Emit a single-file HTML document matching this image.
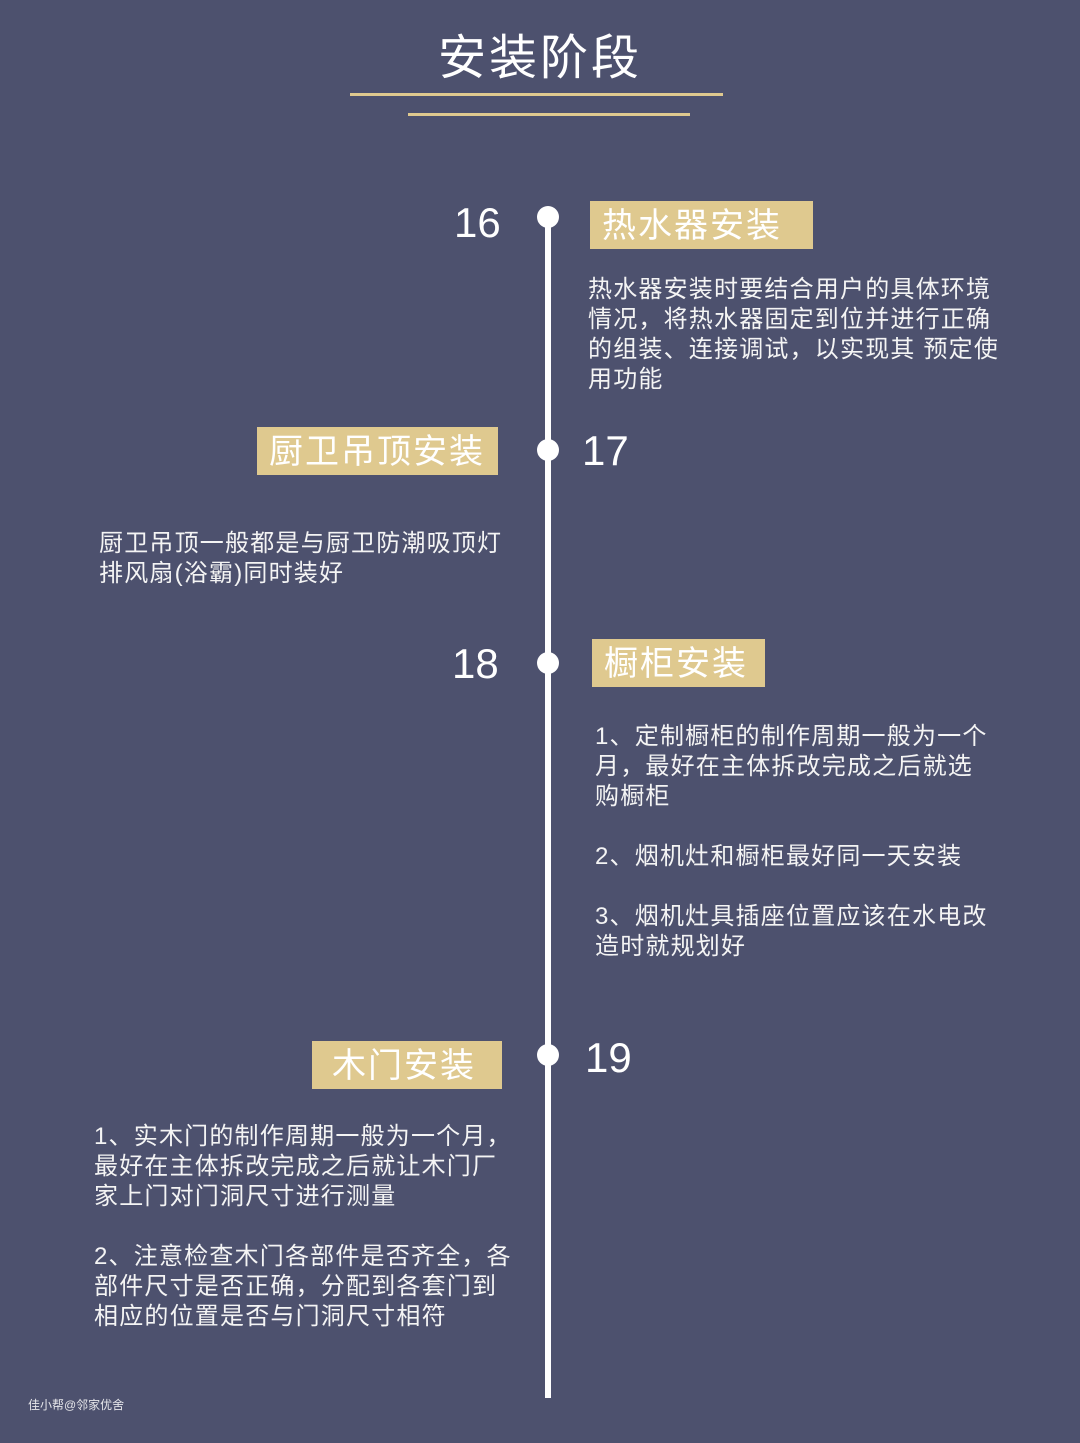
<!DOCTYPE html>
<html><head><meta charset="utf-8"><style>
body{margin:0;width:1080px;height:1443px;background:#4d516e;position:relative;overflow:hidden;font-family:"Liberation Sans","Noto Sans CJK SC",sans-serif;color:#fff}
.a{position:absolute}
.t{font-size:24px;letter-spacing:1.2px;line-height:30px;white-space:pre;color:#f4f4f4}
.box{position:absolute;background:#dfc98f;color:#fff;font-size:34px;line-height:50px;height:48px;padding-left:12px;box-sizing:border-box;letter-spacing:2px}
.num{position:absolute;font-size:42px;line-height:44px;font-family:"Liberation Sans","DejaVu Sans",sans-serif}
.dot{position:absolute;left:537px;width:22px;height:22px;border-radius:50%;background:#fff}
</style></head><body>
<div class="a" style="left:0;width:1080px;top:29px;text-align:center;font-size:48px;line-height:60px;letter-spacing:3px">安装阶段</div>
<div class="a" style="left:350px;top:93px;width:373px;height:3px;background:#dfc98f"></div>
<div class="a" style="left:408px;top:113px;width:282px;height:3px;background:#dfc98f"></div>
<div class="a" style="left:545px;top:215px;width:6px;height:1183px;background:#fff"></div>
<div class="dot" style="top:206px"></div>
<div class="dot" style="top:439px"></div>
<div class="dot" style="top:652px"></div>
<div class="dot" style="top:1044px"></div>
<div class="num" style="left:454px;top:201px">16</div>
<div class="num" style="left:582px;top:429px">17</div>
<div class="num" style="left:452px;top:642px">18</div>
<div class="num" style="left:585px;top:1036px">19</div>
<div class="box" style="left:590px;top:201px;width:223px">热水器安装</div>
<div class="box" style="left:257px;top:427px;width:241px">厨卫吊顶安装</div>
<div class="box" style="left:592px;top:639px;width:173px">橱柜安装</div>
<div class="box" style="left:312px;top:1041px;width:190px;padding-left:20px">木门安装</div>
<div class="a t" style="left:588px;top:275px">热水器安装时要结合用户的具体环境
情况，将热水器固定到位并进行正确
的组装、连接调试，以实现其 预定使
用功能</div>
<div class="a t" style="left:99px;top:529px">厨卫吊顶一般都是与厨卫防潮吸顶灯
排风扇(浴霸)同时装好</div>
<div class="a t" style="left:595px;top:722px">1、定制橱柜的制作周期一般为一个
月，最好在主体拆改完成之后就选
购橱柜

2、烟机灶和橱柜最好同一天安装

3、烟机灶具插座位置应该在水电改
造时就规划好</div>
<div class="a t" style="left:94px;top:1122px">1、实木门的制作周期一般为一个月，
最好在主体拆改完成之后就让木门厂
家上门对门洞尺寸进行测量

2、注意检查木门各部件是否齐全，各
部件尺寸是否正确，分配到各套门到
相应的位置是否与门洞尺寸相符</div>
<div class="a" style="left:28px;top:1396px;font-size:12px;color:#e6e6ea">佳小帮@邻家优舍</div>
</body></html>
